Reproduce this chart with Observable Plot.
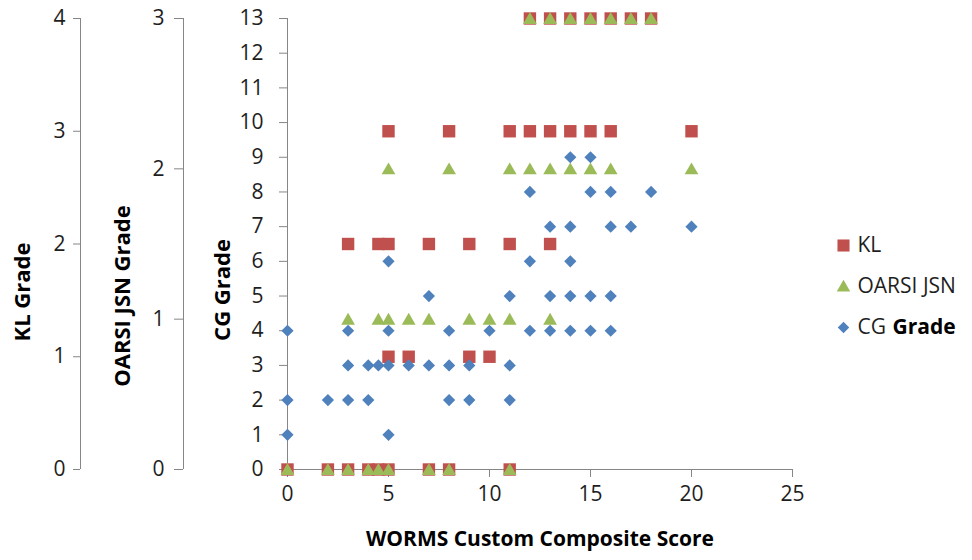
<!DOCTYPE html>
<html>
<head>
<meta charset="utf-8">
<script src="https://cdn.jsdelivr.net/npm/d3@7"></script>
<script src="https://cdn.jsdelivr.net/npm/@observablehq/plot@0.6"></script>
<style>
  body { margin: 0; background: #fff; }
  #chart svg { display: block; }
</style>
</head>
<body>
<div id="chart"></div>
<script>
// ---- tick labels / axis ranges ----
const xTicks = [0, 5, 10, 15, 20, 25];
const cgTicks = [0, 1, 2, 3, 4, 5, 6, 7, 8, 9, 10, 11, 12, 13];
const klTicks = [0, 1, 2, 3, 4];
const oarsiTicks = [0, 1, 2, 3];
const CG_MAX = 13, KL_MAX = 4, OARSI_MAX = 3;

// ---- series names / titles ----
const seriesNames = ["KL", "OARSI JSN", "CG", "Grade"];
const xTitle = "WORMS Custom Composite Score";
const yTitles = ["KL Grade", "OARSI JSN Grade", "CG Grade"];

// ---- KL grade: WORMS scores at each grade ----
const kl0 = [0, 2, 3, 4, 4.5, 5, 7, 8, 11];
const kl1 = [5, 6, 9, 10];
const kl2 = [3, 4.5, 5, 7, 9, 11, 13];
const kl3 = [5, 8, 11, 12, 13, 14, 15, 16, 20];
const kl4 = [12, 13, 14, 15, 16, 17, 18];

// ---- OARSI JSN grade: WORMS scores at each grade ----
const oarsi0 = [0, 2, 3, 4, 4.5, 5, 7, 8, 11];
const oarsi1 = [3, 4.5, 5, 6, 7, 9, 10, 11, 13];
const oarsi2 = [5, 8, 11, 12, 13, 14, 15, 16, 20];
const oarsi3 = [12, 13, 14, 15, 16, 17, 18];

// ---- CG grade points ----
const cgScore = [0, 0, 0, 2, 3, 3, 3, 4, 4, 4.5, 5, 5, 5, 5, 6, 7, 7, 8, 8, 8, 9, 9, 10,
                 11, 11, 11, 12, 12, 12, 13, 13, 13, 14, 14, 14, 14, 14, 15, 15, 15, 15,
                 16, 16, 16, 16, 17, 18, 20];
const cgGrade = [4, 2, 1, 2, 4, 3, 2, 3, 2, 3, 6, 4, 3, 1, 3, 5, 3, 4, 3, 2, 3, 2, 4,
                 5, 3, 2, 8, 6, 4, 7, 5, 4, 9, 7, 6, 5, 4, 9, 8, 5, 4,
                 8, 7, 5, 4, 7, 8, 7];

// ---- build tables ----
const klData = [kl0, kl1, kl2, kl3, kl4].flatMap((xs, g) => xs.map(x => ({score: x, grade: g})));
const oarsiData = [oarsi0, oarsi1, oarsi2, oarsi3].flatMap((xs, g) => xs.map(x => ({score: x, grade: g})));
const cgData = cgScore.map((x, i) => ({score: x, grade: cgGrade[i]}));

const RED = "#C0504D", GREEN = "#9BBB59", BLUE = "#4F81BD", AXIS = "#868686";
const FONT = "Open Sans";

const klToCg = g => g * CG_MAX / KL_MAX;
const oarsiToCg = g => g * CG_MAX / OARSI_MAX;

const titleStyle = {fontWeight: "bold", fontSize: 22, fill: "#000", textAnchor: "middle", lineAnchor: "middle"};
const legendText = {frameAnchor: "top-left", textAnchor: "start", lineAnchor: "middle", fontSize: 21, fill: "#1e1e1e"};

const chart = Plot.plot({
  width: 972,
  height: 560,
  marginLeft: 287,
  marginRight: 180,
  marginTop: 18,
  marginBottom: 91,
  x: {domain: [0, 25]},
  y: {domain: [0, CG_MAX]},
  style: {fontFamily: FONT, fontSize: "20px", color: "#1e1e1e", background: "#fff"},
  marks: [
    // x axis
    Plot.ruleY([0], {stroke: AXIS}),
    Plot.axisX(xTicks, {anchor: "bottom", tickSize: 8, tickPadding: 9, stroke: AXIS, label: null, fontSize: 21}),
    // CG axis
    Plot.ruleX([0], {stroke: AXIS}),
    Plot.axisY(cgTicks, {anchor: "left", tickSize: 8, tickPadding: 16, stroke: AXIS, label: null, fontSize: 21}),
    // OARSI axis
    Plot.ruleX([0], {y1: 0, y2: CG_MAX, stroke: AXIS, dx: -104}),
    Plot.axisY(oarsiTicks.map(oarsiToCg), {anchor: "left", tickSize: 9, tickPadding: 10, dx: -104, stroke: AXIS,
      tickFormat: d => Math.round(d * OARSI_MAX / CG_MAX), label: null, fontSize: 21}),
    // KL axis
    Plot.ruleX([0], {y1: 0, y2: CG_MAX, stroke: AXIS, dx: -207}),
    Plot.axisY(klTicks.map(klToCg), {anchor: "left", tickSize: 7, tickPadding: 8, dx: -207, stroke: AXIS,
      tickFormat: d => Math.round(d * KL_MAX / CG_MAX), label: null, fontSize: 21}),

    // axis titles
    Plot.text([xTitle], {frameAnchor: "bottom", dy: 70, ...titleStyle, fontSize: 21}),
    Plot.text([yTitles[0]], {frameAnchor: "left", rotate: -90, dx: -265, dy: 48, ...titleStyle}),
    Plot.text([yTitles[1]], {frameAnchor: "left", rotate: -90, dx: -165, dy: 52, ...titleStyle}),
    Plot.text([yTitles[2]], {frameAnchor: "left", rotate: -90, dx: -65, dy: 46, ...titleStyle}),

    // data
    Plot.dot(klData, {x: "score", y: d => klToCg(d.grade), symbol: "square", r: 7, fill: RED}),
    Plot.dot(oarsiData, {x: "score", y: d => oarsiToCg(d.grade), symbol: "triangle", r: 5.1, fill: GREEN, dy: 1.5}),
    Plot.dot(cgData, {x: "score", y: "grade", symbol: "diamond2", r: 5.5, fill: BLUE}),

    // legend
    Plot.dot([seriesNames[0]], {frameAnchor: "top-left", dx: 556, dy: 227, symbol: "square", r: 6.8, fill: RED}),
    Plot.dot([seriesNames[1]], {frameAnchor: "top-left", dx: 556, dy: 269, symbol: "triangle", r: 5, fill: GREEN}),
    Plot.dot([seriesNames[2]], {frameAnchor: "top-left", dx: 556, dy: 309, symbol: "diamond2", r: 5.2, fill: BLUE}),
    Plot.text([seriesNames[0]], {...legendText, dx: 570, dy: 227}),
    Plot.text([seriesNames[1]], {...legendText, dx: 570, dy: 268}),
    Plot.text([seriesNames[2]], {...legendText, dx: 570, dy: 309}),
    Plot.text([seriesNames[3]], {...legendText, dx: 605, dy: 309, fontWeight: "bold", fill: "#000"})
  ]
});

document.getElementById("chart").appendChild(chart);
</script>
</body>
</html>
